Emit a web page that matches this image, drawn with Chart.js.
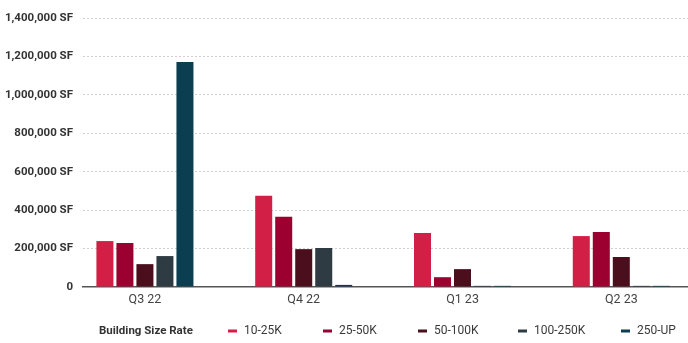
<!DOCTYPE html>
<html>
<head>
<meta charset="utf-8">
<script src="https://cdn.jsdelivr.net/npm/chart.js@4/dist/chart.umd.min.js"></script>
<style>
  html, body { margin: 0; padding: 0; background: #fff; }
  #c { display: block; }
</style>
</head>
<body>
<canvas id="c" width="688" height="343"></canvas>
<script>
// Quarterly absorption by building size band (square feet)
const quarters = ['Q3 22', 'Q4 22', 'Q1 23', 'Q2 23'];
const sizeBands = ['10-25K', '25-50K', '50-100K', '100-250K', '250-UP'];
const band10to25 = [239000, 475000, 281000, 265000];
const band25to50 = [229000, 365000, 51000, 286000];
const band50to100 = [119000, 197000, 93000, 156000];
const band100to250 = [161000, 203000, 6000, 6000];
const band250up = [1171000, 11000, 6000, 6000];
const yTickValues = [0, 200000, 400000, 600000, 800000, 1000000, 1200000, 1400000];
const legendTitle = 'Building Size Rate';

const bandColors = ['#D11F45', '#9B0030', '#4B0E1D', '#2E3B42', '#0C3E51'];
const seriesValues = [band10to25, band25to50, band50to100, band100to250, band250up];

const FONT = 'Roboto, "Liberation Sans", Arial, sans-serif';

// Bottom legend: bold title followed by short colour dashes and band names
const legendPlugin = {
  id: 'sizeLegend',
  afterDraw(chart, args, opts) {
    const ctx = chart.ctx;
    ctx.save();
    ctx.textBaseline = 'middle';
    ctx.textAlign = 'left';
    ctx.fillStyle = '#333';
    ctx.font = 'bold 11.5px ' + FONT;
    ctx.fillText(legendTitle, opts.titleX, opts.y);
    ctx.font = '12px ' + FONT;
    chart.data.datasets.forEach((ds, i) => {
      const x = opts.itemX[i];
      ctx.fillStyle = ds.backgroundColor;
      ctx.fillRect(x, opts.y - 1.5, 9, 3);
      ctx.fillStyle = '#3a3a3a';
      ctx.fillText(ds.label, x + 16, opts.y);
    });
    ctx.restore();
  }
};

new Chart(document.getElementById('c'), {
  type: 'bar',
  data: {
    labels: quarters.map((_, i) => i),
    datasets: sizeBands.map((name, i) => ({
      label: name,
      data: seriesValues[i],
      backgroundColor: bandColors[i],
      borderWidth: 0,
      categoryPercentage: 0.63,
      barPercentage: 0.85
    }))
  },
  options: {
    responsive: false,
    animation: false,
    devicePixelRatio: 1,
    layout: { padding: { top: 18, bottom: 31, left: 0, right: 0 } },
    plugins: {
      legend: { display: false },
      tooltip: { enabled: false },
      sizeLegend: { titleX: 99, y: 331, itemX: [228, 323, 418, 518, 621] }
    },
    scales: {
      x: {
        type: 'linear',
        min: -0.39,
        max: 3.42,
        offset: false,
        afterBuildTicks: s => { s.ticks = quarters.map((_, i) => ({ value: i })); },
        ticks: {
          callback: v => quarters[v],
          color: '#444',
          font: { family: FONT, size: 12.5 },
          padding: 5,
          maxRotation: 0,
          autoSkip: false
        },
        grid: { display: false, drawTicks: false },
        border: { display: true, color: '#555', width: 1.5 }
      },
      y: {
        min: 0,
        max: 1400000,
        afterBuildTicks: s => { s.ticks = yTickValues.map(v => ({ value: v })); },
        afterFit: s => { s.width = 83; },
        ticks: {
          callback: v => v === 0 ? '0' : v.toLocaleString('en-US') + ' SF',
          color: '#333',
          font: { family: FONT, size: 11.5, weight: 'bold' },
          padding: 10
        },
        grid: {
          color: ctx => ctx.tick && ctx.tick.value === 0 ? 'rgba(0,0,0,0)' : '#cfcfcf',
          lineWidth: 1,
          drawTicks: false
        },
        border: { display: false, dash: [2, 2] }
      }
    }
  },
  plugins: [legendPlugin]
});
</script>
</body>
</html>
